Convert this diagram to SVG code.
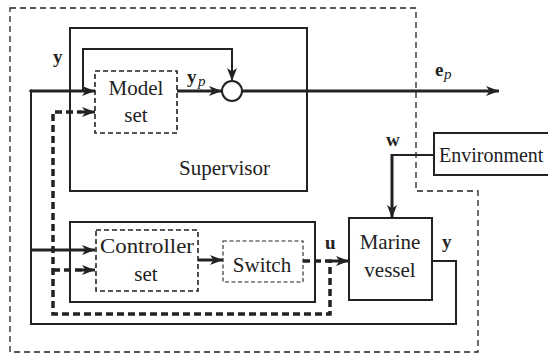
<svg xmlns="http://www.w3.org/2000/svg" width="548" height="354" viewBox="0 0 548 354">
<style>
.t{font-family:"Liberation Serif","Times New Roman",serif;font-size:21px;fill:#222}
.b{font-family:"Liberation Serif","Times New Roman",serif;font-size:19px;font-weight:bold;fill:#222}
.i{font-family:"Liberation Serif","Times New Roman",serif;font-size:15px;font-style:italic;fill:#222}
.box{fill:#fff;stroke:#222;stroke-width:2}
.dbox{fill:none;stroke:#222;stroke-width:1.6;stroke-dasharray:5 3}
.ln{fill:none;stroke:#222;stroke-width:2}
.thk{fill:none;stroke:#222;stroke-width:3}
.dsh{fill:none;stroke:#222;stroke-width:3.5;stroke-dasharray:7 4}
</style>
<defs>
<marker id="ah" markerUnits="userSpaceOnUse" markerWidth="14" markerHeight="10" refX="13" refY="5" orient="auto">
<path d="M0,0 L13,5 L0,10 L3.5,5 z" fill="#222"/>
</marker>
</defs>
<rect x="0" y="0" width="548" height="354" fill="#fff"/>
<path id="boundary" d="M10,8 H416 V191 H478 V352 H10 Z" fill="none" stroke="#222" stroke-width="1.3" stroke-dasharray="6 4"/>
<g id="supervisor"><rect class="box" x="70" y="28" width="237" height="163"/><text class="t" x="179" y="175">Supervisor</text></g>
<g id="controller"><rect class="box" x="70" y="222" width="245" height="80"/></g>
<g id="modelset"><rect class="dbox" x="95" y="71" width="82" height="62"/><text class="t" x="136" y="95" text-anchor="middle">Model</text><text class="t" x="136" y="122" text-anchor="middle">set</text></g>
<g id="controllerset"><rect class="dbox" x="96" y="230" width="102" height="61"/><text class="t" x="147" y="253" text-anchor="middle" textLength="94" lengthAdjust="spacingAndGlyphs">Controller</text><text class="t" x="146" y="281" text-anchor="middle">set</text></g>
<g id="switch"><rect x="223" y="241" width="80" height="41" fill="none" stroke="#222" stroke-width="1.1" stroke-dasharray="4 2.5"/><text class="t" x="262" y="272" text-anchor="middle">Switch</text></g>
<g id="vessel"><rect class="box" x="349" y="218" width="83" height="82"/><text class="t" x="390" y="249" text-anchor="middle">Marine</text><text class="t" x="390" y="277" text-anchor="middle">vessel</text></g>
<g id="environment"><rect class="box" x="434" y="133" width="130" height="42"/><text class="t" x="439" y="162" style="font-size:20px">Environment</text></g>
<g id="sum"><circle cx="232" cy="91" r="10" fill="#fff" stroke="#222" stroke-width="2"/></g>
<g id="connectors">
<path class="thk" d="M31,91 H95" marker-end="url(#ah)"/>
<circle cx="31" cy="91" r="1.8" fill="#222"/>
<path class="ln" d="M432,261 H456 V324 H31 V91"/>
<path class="thk" d="M31,250 H95" marker-end="url(#ah)"/>
<path class="ln" d="M83,91 V49 H232 V81" marker-end="url(#ah)"/>
<path class="thk" d="M177,91 H222" marker-end="url(#ah)"/>
<path class="thk" d="M242,91 H499" marker-end="url(#ah)"/>
<path class="ln" d="M434,155 H392"/>
<path class="thk" d="M392,154 V218" marker-end="url(#ah)"/>
<path class="thk" d="M198,260 H223" marker-end="url(#ah)"/>
<path class="dsh" d="M303,261 H330 V314 H53 V112 H82"/>
<path class="thk" d="M82,112 H95" marker-end="url(#ah)"/>
<path class="dsh" d="M53,270 H82"/>
<path class="thk" d="M82,270 H95" marker-end="url(#ah)"/>
<path class="thk" d="M330,261 H349" marker-end="url(#ah)"/>
</g>
<g id="labels">
<text class="b" x="53" y="63">y</text>
<text class="b" x="187" y="83">y</text><text class="i" x="198" y="86">p</text>
<text class="b" x="435" y="76">e</text><text class="i" x="444" y="79">p</text>
<text class="b" x="386" y="146">w</text>
<text class="b" x="325" y="249">u</text>
<text class="b" x="442" y="248">y</text>
</g>
</svg>
